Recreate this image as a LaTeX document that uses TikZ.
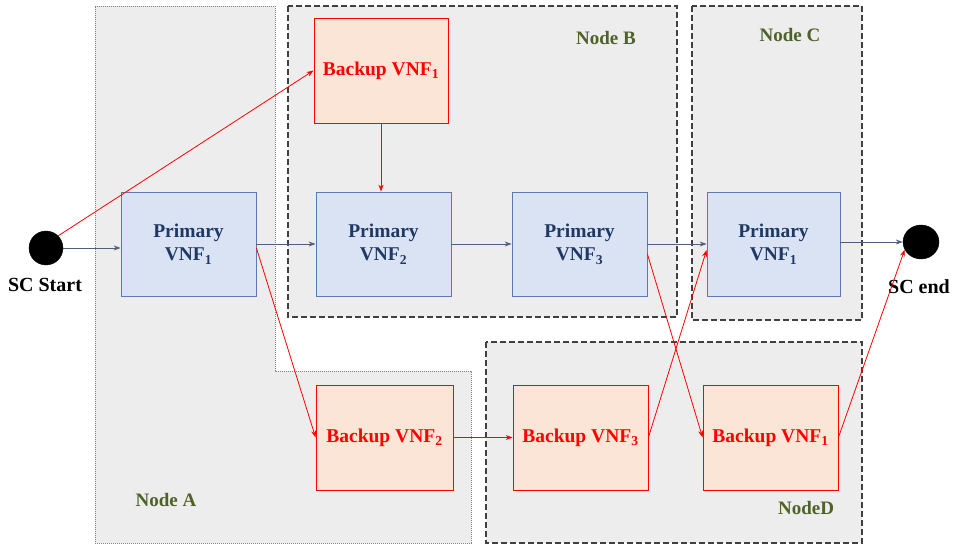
\documentclass[tikz,border=0pt]{standalone}
\usepackage{fontspec}
\setmainfont{Liberation Serif}[BoldFont={Liberation Serif Bold}]
\newfontfamily\tnr{Liberation Serif}[BoldFont={Liberation Serif Bold}]
\usetikzlibrary{arrows.meta,calc,shapes.geometric}
\definecolor{regionfill}{HTML}{EDEDED}
\definecolor{dashgray}{HTML}{404040}
\definecolor{primfill}{HTML}{DAE3F3}
\definecolor{primdraw}{HTML}{5B7BB0}
\definecolor{primtext}{HTML}{1F3864}
\definecolor{backfill}{HTML}{FBE5D6}
\definecolor{labelgreen}{HTML}{4F6228}
\definecolor{flowgray}{HTML}{4E5F7D}
\tikzset{
  region/.style={fill=regionfill, draw=dashgray, line width=2.2pt, dash pattern=on 6pt off 3pt},
  regiondot/.style={fill=regionfill, draw=gray, line width=0.6pt, dash pattern=on 1pt off 1pt},
  primbox/.style={draw=primdraw, fill=primfill, line width=0.8pt, minimum height=104pt, align=center,
     text=primtext, font=\tnr\fontsize{19.5}{23.5}\selectfont\bfseries, inner sep=0pt},
  backbox/.style={draw=red, fill=backfill, line width=0.8pt, minimum height=105pt, align=center,
     text=red, font=\tnr\fontsize{19.5}{23.5}\selectfont\bfseries, inner sep=0pt},
  regionlabel/.style={text=labelgreen, font=\tnr\fontsize{19}{22}\selectfont\bfseries},
  sclabel/.style={font=\tnr\fontsize{20}{22}\selectfont\bfseries},
  scdot/.style={fill=black, draw=black, ellipse, minimum width=34pt, minimum height=34pt, inner sep=0pt},
  flow/.style={draw=flowgray, line width=0.8pt, -{Stealth[length=7pt,width=5pt]}},
  bflow/.style={draw=red, line width=0.8pt, -{Stealth[length=7pt,width=5pt]}},
}
\begin{document}
\begin{tikzpicture}[x=1pt,y=-1pt]
\useasboundingbox (0,0) rectangle (957,545);
% regions
\draw[regiondot] (95,6) -- (275,6) -- (275,371) -- (471,371) -- (471,543) -- (95,543) -- cycle;
\draw[region] (288,6) rectangle (677,317);
\draw[region] (692,6) rectangle (862,320);
\draw[region] (486,342) rectangle (862,543);
\node[regionlabel] (la) at (166,500) {Node A};
\node[regionlabel] (lb) at (606,38) {Node B};
\node[regionlabel] (lc) at (790,35) {Node C};
\node[regionlabel] (ld) at (806,508) {NodeD};
% endpoints
\node[scdot] (start) at (46,248) {};
\node[scdot, minimum width=36pt] (end) at (921,242) {};
\node[sclabel] (startl) at (45,285) {SC Start};
\node[sclabel] (endl) at (919,287) {SC end};
% boxes
\node[primbox, minimum width=135pt] (pa) at (188.5,244) {Primary\\VNF\textsubscript{1}};
\node[backbox, minimum width=134pt] (bb1) at (381,70.5) {Backup VNF\textsubscript{1}};
\node[primbox, minimum width=135pt] (p2) at (383.5,244) {Primary\\VNF\textsubscript{2}};
\node[primbox, minimum width=135pt] (p3) at (579.5,244) {Primary\\VNF\textsubscript{3}};
\node[primbox, minimum width=133pt] (pc) at (773.5,244) {Primary\\VNF\textsubscript{1}};
\node[backbox, minimum width=137pt] (b2) at (384.5,437.5) {Backup VNF\textsubscript{2}};
\node[backbox, minimum width=135pt] (b3) at (580.5,437.5) {Backup VNF\textsubscript{3}};
\node[backbox, minimum width=135pt] (bd1) at (770.5,437.5) {Backup VNF\textsubscript{1}};
% primary flow
\draw[flow] (start.east) -- (start.east -| pa.west);
\draw[flow] (pa.east) -- (pa.east -| p2.west);
\draw[flow] (p2.east) -- (p2.east -| p3.west);
\draw[flow] (p3.east) -- (p3.east -| pc.west);
\draw[flow] ($(pc.east)+(0,-2)$) -- (end.west);
% backup flow
\draw[bflow] (start.45) -- (bb1.west);
\draw[bflow] (bb1.south) -- (bb1.south |- p2.north);
\draw[bflow] ($(pa.east)+(0,4)$) -- (b2.west);
\draw[bflow] (b2.east) -- (b3.west);
\draw[bflow] ($(p3.east)+(0,10)$) -- (bd1.west);
\draw[bflow] (b3.east) -- ($(pc.west)+(0,6)$);
\draw[bflow] (bd1.east) -- (end.205);
\end{tikzpicture}
\end{document}
